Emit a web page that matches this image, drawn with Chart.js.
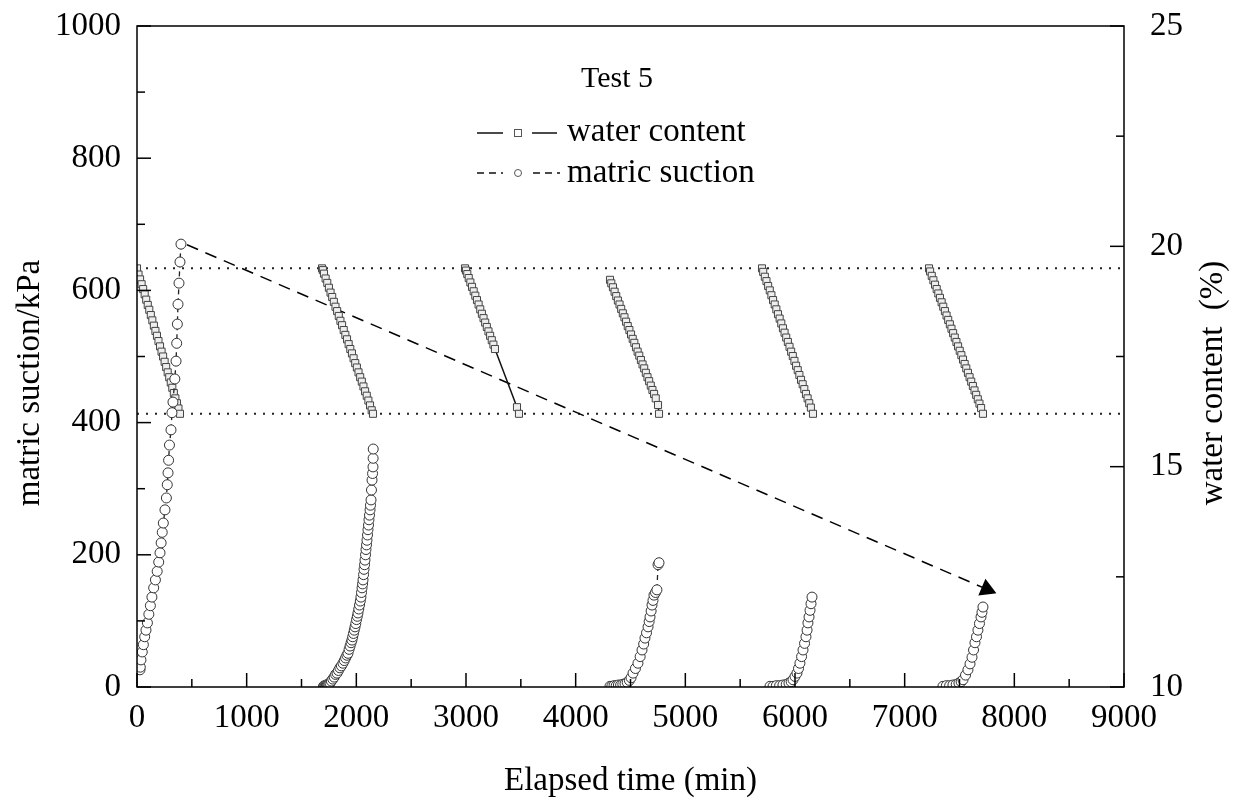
<!DOCTYPE html>
<html>
<head>
<meta charset="utf-8">
<script src="https://cdn.jsdelivr.net/npm/chart.js"></script>
<style>
  body { margin: 0; background: #fff; }
</style>
</head>
<body>
<canvas id="myChart" width="1234" height="803"></canvas>
<script>
// water content (%), [time (min), value] per drying run
const wc1 = [[0,19.50],[14,19.36],[28,19.25],[42,19.14],[56,19.03],[70,18.91],[84,18.79],[98,18.67],[112,18.56],[126,18.44],[140,18.32],[154,18.20],[168,18.08],[182,17.97],[196,17.85],[210,17.73],[224,17.61],[238,17.50],[252,17.38],[266,17.26],[280,17.14],[294,17.03],[308,16.91],[322,16.79],[336,16.67],[350,16.55],[364,16.44],[378,16.32],[392,16.20]];
const wc2 = [[1687,19.50],[1695,19.46],[1705,19.38],[1720,19.27],[1735,19.17],[1750,19.06],[1765,18.95],[1780,18.85],[1795,18.74],[1810,18.63],[1825,18.53],[1840,18.42],[1855,18.31],[1870,18.21],[1885,18.10],[1900,17.99],[1915,17.89],[1930,17.78],[1945,17.67],[1960,17.57],[1975,17.46],[1990,17.35],[2005,17.25],[2020,17.14],[2035,17.03],[2050,16.93],[2065,16.82],[2080,16.71],[2095,16.61],[2110,16.50],[2125,16.39],[2140,16.28],[2152,16.20]];
const wc3 = [[2991,19.50],[3000,19.45],[3012,19.37],[3025,19.28],[3040,19.18],[3055,19.08],[3070,18.98],[3085,18.88],[3100,18.78],[3115,18.68],[3130,18.57],[3145,18.47],[3160,18.37],[3175,18.27],[3190,18.17],[3205,18.07],[3220,17.97],[3235,17.87],[3250,17.77],[3264,17.67],[3465,16.35],[3483,16.20]];
const wc4 = [[4313,19.24],[4325,19.16],[4340,19.07],[4355,18.97],[4370,18.87],[4385,18.77],[4400,18.68],[4415,18.58],[4430,18.48],[4445,18.39],[4460,18.29],[4475,18.19],[4490,18.10],[4505,18.00],[4520,17.90],[4535,17.81],[4550,17.71],[4565,17.61],[4580,17.52],[4595,17.42],[4610,17.32],[4625,17.23],[4640,17.13],[4655,17.03],[4670,16.94],[4685,16.84],[4700,16.74],[4715,16.65],[4730,16.55],[4751,16.40],[4760,16.20]];
const wc5 = [[5699,19.50],[5710,19.42],[5725,19.31],[5740,19.21],[5755,19.10],[5770,19.00],[5785,18.89],[5800,18.78],[5815,18.68],[5830,18.57],[5845,18.46],[5860,18.36],[5875,18.25],[5890,18.14],[5905,18.04],[5920,17.93],[5935,17.83],[5950,17.72],[5965,17.61],[5980,17.51],[5995,17.40],[6010,17.29],[6025,17.19],[6040,17.08],[6055,16.97],[6070,16.87],[6085,16.76],[6100,16.65],[6115,16.55],[6130,16.44],[6145,16.34],[6164,16.20]];
const wc6 = [[7222,19.50],[7232,19.43],[7247,19.33],[7262,19.23],[7277,19.13],[7292,19.03],[7307,18.93],[7322,18.83],[7337,18.73],[7352,18.63],[7367,18.53],[7382,18.43],[7397,18.33],[7412,18.23],[7427,18.13],[7442,18.03],[7457,17.93],[7472,17.83],[7487,17.73],[7502,17.63],[7517,17.53],[7532,17.43],[7547,17.33],[7562,17.23],[7577,17.13],[7592,17.03],[7607,16.93],[7622,16.83],[7637,16.73],[7652,16.63],[7667,16.53],[7682,16.43],[7697,16.33],[7714,16.20]];

// matric suction (kPa)
const ms1 = [[27,26],[30,30],[36,41],[48,53],[58,64],[70,76],[82,86],[95,97],[108,110],[122,123],[136,136],[152,150],[168,162],[184,175],[198,189],[210,203],[220,218],[230,234],[240,248],[255,268],[268,286],[276,306],[283,324],[288,343],[296,366],[310,389],[319,415],[328,431],[345,466],[356,493],[362,520],[368,549],[374,579],[383,611],[392,643],[401,670]];
const ms2 = [[1700,1],[1710,2],[1718,2],[1726,3],[1734,3],[1742,4],[1750,5],[1760,6],[1772,9],[1785,12],[1798,15],[1811,19],[1824,21],[1837,25],[1850,29],[1864,32],[1878,36],[1890,40],[1902,44],[1914,48],[1924,51],[1934,57],[1943,62],[1952,67],[1960,71],[1967,76],[1974,81],[1981,86],[1988,91],[1995,96],[2002,102],[2009,107],[2015,112],[2022,118],[2029,124],[2036,130],[2042,136],[2047,143],[2052,150],[2057,156],[2061,162],[2066,170],[2070,178],[2075,185],[2079,192],[2084,200],[2088,208],[2093,215],[2097,222],[2102,230],[2106,238],[2111,245],[2115,253],[2120,260],[2125,268],[2129,275],[2134,283],[2138,298],[2143,313],[2148,323],[2152,333],[2153,346],[2154,360]];
const ms3 = [[4313,1],[4330,1],[4350,2],[4370,2],[4390,3],[4410,3],[4430,4],[4450,5],[4470,7],[4490,10],[4505,14],[4523,21],[4545,28],[4568,36],[4588,46],[4605,56],[4620,65],[4632,74],[4646,82],[4660,91],[4670,99],[4678,106],[4688,115],[4696,124],[4705,131],[4714,139],[4728,143],[4741,147],[4751,185],[4760,188]];
const ms4 = [[5772,1],[5800,1],[5830,2],[5860,2],[5890,3],[5920,4],[5945,6],[5965,8],[5982,11],[6000,16],[6018,21],[6032,28],[6045,36],[6060,46],[6073,56],[6087,66],[6100,76],[6110,86],[6118,97],[6128,106],[6137,116],[6146,126],[6155,136]];
const ms5 = [[7349,1],[7380,2],[7410,2],[7440,3],[7470,4],[7495,6],[7515,8],[7532,11],[7555,18],[7577,26],[7596,35],[7614,45],[7628,56],[7641,67],[7655,76],[7668,86],[7682,96],[7696,106],[7705,113],[7714,121]];

// trend arrow (time, kPa) and the two water content levels (%)
const arrowLine = [[456,669],[7748,148]];
const wcLevels = [19.5, 16.2];

const xTicks = [0, 1000, 2000, 3000, 4000, 5000, 6000, 7000, 8000, 9000];
const suctionTicks = [0, 200, 400, 600, 800, 1000];
const wcTicks = [10, 15, 20, 25];

const FONT = '"Liberation Serif", "Times New Roman", serif';

// join runs into one series with gaps between them
function joinRuns(runs) {
  let out = [];
  runs.forEach((run, i) => {
    if (i > 0) out.push({x: run[0][0], y: null});
    run.forEach(p => out.push({x: p[0], y: p[1]}));
  });
  return out;
}

// frame, inward ticks, titles and the in-plot legend
const decor = {
  id: 'decor',
  afterDraw(chart) {
    const ctx = chart.ctx;
    const a = chart.chartArea;
    ctx.save();
    ctx.strokeStyle = '#000';
    ctx.lineWidth = 1.5;
    ctx.strokeRect(a.left, a.top, a.right - a.left, a.bottom - a.top);

    function ticks(scale, dir) {
      const vals = scale.ticks.map(t => t.value);
      const all = [];
      vals.forEach((v, i) => {
        all.push([v, 14]);
        if (i < vals.length - 1) all.push([(v + vals[i + 1]) / 2, 8]);
      });
      all.forEach(([v, l]) => {
        const p = scale.getPixelForValue(v);
        ctx.beginPath();
        if (dir === 'x') { ctx.moveTo(p, a.bottom); ctx.lineTo(p, a.bottom - l); }
        else if (dir === 'l') { ctx.moveTo(a.left, p); ctx.lineTo(a.left + l, p); }
        else { ctx.moveTo(a.right, p); ctx.lineTo(a.right - l, p); }
        ctx.stroke();
      });
    }
    ticks(chart.scales.x, 'x');
    ticks(chart.scales.y, 'l');
    ticks(chart.scales.y1, 'r');

    ctx.fillStyle = '#000';
    ctx.font = '33px ' + FONT;
    ctx.textAlign = 'center';
    ctx.textBaseline = 'middle';
    [['matric suction/kPa', 30], ['water content  (%)', 1213]].forEach(([t, x]) => {
      ctx.save();
      ctx.translate(x, 383);
      ctx.rotate(-Math.PI / 2);
      ctx.fillText(t, 0, 0);
      ctx.restore();
    });

    // legend
    ctx.font = '30px ' + FONT;
    ctx.fillText('Test 5', 617, 79);
    ctx.textAlign = 'left';
    ctx.font = '33px ' + FONT;
    ctx.fillText('water content', 567, 132);
    ctx.fillText('matric suction', 567, 173);
    ctx.lineWidth = 1.5;
    ctx.strokeStyle = '#111';
    ctx.beginPath();
    ctx.moveTo(477, 133); ctx.lineTo(503, 133);
    ctx.moveTo(532, 133); ctx.lineTo(557, 133);
    ctx.stroke();
    ctx.lineWidth = 1;
    ctx.strokeStyle = '#555';
    ctx.strokeRect(514.5, 129.5, 7, 7);
    ctx.strokeStyle = '#111';
    ctx.lineWidth = 1.5;
    ctx.setLineDash([7, 5]);
    ctx.beginPath();
    ctx.moveTo(477, 173); ctx.lineTo(503, 173);
    ctx.moveTo(533, 173); ctx.lineTo(560, 173);
    ctx.stroke();
    ctx.setLineDash([]);
    ctx.lineWidth = 1;
    ctx.strokeStyle = '#555';
    ctx.beginPath();
    ctx.arc(518, 173, 3.5, 0, Math.PI * 2);
    ctx.stroke();
    ctx.restore();
  }
};

const tickFont = {family: FONT, size: 33};
const plainLabel = v => String(v);

var ctx = document.getElementById('myChart').getContext('2d');
var chart = new Chart(ctx, {
  type: 'line',
  data: {
    datasets: [
      {
        label: 'matric suction',
        data: joinRuns([ms1, ms2, ms3, ms4, ms5]),
        yAxisID: 'y',
        borderColor: '#222',
        borderWidth: 1.3,
        borderDash: [5, 4],
        pointStyle: 'circle',
        pointRadius: 5,
        pointBorderWidth: 1,
        pointBorderColor: '#333',
        pointBackgroundColor: '#fff'
      },
      {
        label: 'water content',
        data: joinRuns([wc1, wc2, wc3, wc4, wc5, wc6]),
        yAxisID: 'y1',
        borderColor: '#111',
        borderWidth: 1.5,
        pointStyle: 'rect',
        pointRadius: 5,
        pointBorderWidth: 1,
        pointBorderColor: '#444',
        pointBackgroundColor: '#eee'
      },
      {
        label: 'arrow',
        data: arrowLine.map(p => ({x: p[0], y: p[1]})),
        yAxisID: 'y',
        borderColor: '#000',
        borderWidth: 1.5,
        borderDash: [12, 8],
        pointStyle: 'triangle',
        pointRotation: 113,
        pointRadius: [0, 9],
        pointBackgroundColor: '#000',
        pointBorderColor: '#000'
      },
      ...wcLevels.map(v => ({
        label: 'level ' + v,
        data: [{x: 0, y: v}, {x: 9000, y: v}],
        yAxisID: 'y1',
        borderColor: '#222',
        borderWidth: 2,
        borderDash: [2, 7],
        pointRadius: 0
      }))
    ]
  },
  options: {
    responsive: false,
    animation: false,
    spanGaps: false,
    elements: { line: { tension: 0 } },
    layout: { padding: { top: 26, left: 0, right: 0, bottom: 0 } },
    plugins: { legend: { display: false }, tooltip: { enabled: false } },
    scales: {
      x: {
        type: 'linear',
        min: 0, max: 9000,
        afterBuildTicks: s => { s.ticks = xTicks.map(v => ({value: v})); },
        afterFit: s => { s.height = 116; },
        grid: { display: false, drawTicks: false },
        border: { display: false },
        ticks: { font: tickFont, color: '#000', padding: 12, maxRotation: 0, autoSkip: false, callback: plainLabel },
        title: { display: true, text: 'Elapsed time (min)', font: tickFont, color: '#000', padding: { top: 0, bottom: 2 } }
      },
      y: {
        type: 'linear',
        position: 'left',
        min: 0, max: 1000,
        afterBuildTicks: s => { s.ticks = suctionTicks.map(v => ({value: v})); },
        afterFit: s => { s.width = 137; s.paddingTop = 0; s.paddingBottom = 0; },
        grid: { display: false, drawTicks: false },
        border: { display: false },
        ticks: { font: tickFont, color: '#000', padding: 16, callback: plainLabel }
      },
      y1: {
        type: 'linear',
        position: 'right',
        min: 10, max: 25,
        afterBuildTicks: s => { s.ticks = wcTicks.map(v => ({value: v})); },
        afterFit: s => { s.width = 110; s.paddingTop = 0; s.paddingBottom = 0; },
        grid: { display: false, drawTicks: false },
        border: { display: false },
        ticks: { font: tickFont, color: '#000', padding: 26, callback: plainLabel }
      }
    }
  },
  plugins: [decor]
});
</script>
</body>
</html>
